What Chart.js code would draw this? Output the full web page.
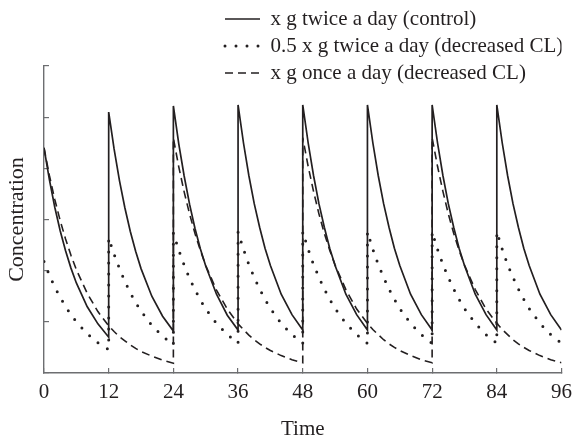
<!DOCTYPE html>
<html>
<head>
<meta charset="utf-8">
<script src="https://cdn.jsdelivr.net/npm/chart.js@4.4.1/dist/chart.umd.min.js"></script>
<style>
  html, body { margin: 0; padding: 0; background: #fff; }
  #wrap { width: 584px; height: 443px; position: relative; }
</style>
</head>
<body>
<div id="wrap"><canvas id="concChart"></canvas></div>
<script>
// sampling times in hours; each dose time is listed twice (trough, then peak)
const hours = [
  0, 1, 2, 3, 4, 5, 6, 8, 10,
  12, 12, 13, 14, 15, 16, 17, 18, 20, 22,
  24, 24, 25, 26, 27, 28, 29, 30, 32, 34,
  36, 36, 37, 38, 39, 40, 41, 42, 44, 46,
  48, 48, 49, 50, 51, 52, 53, 54, 56, 58,
  60, 60, 61, 62, 63, 64, 65, 66, 68, 70,
  72, 72, 73, 74, 75, 76, 77, 78, 80, 82,
  84, 84, 85, 86, 87, 88, 89, 90, 92, 94,
  96
];

// x g twice a day (control)
const controlConc = [
  4.40, 3.78, 3.24, 2.78, 2.39, 2.05, 1.76, 1.30, 0.96,
  0.70, 5.10, 4.38, 3.76, 3.23, 2.77, 2.38, 2.04, 1.50, 1.11,
  0.82, 5.22, 4.48, 3.85, 3.30, 2.83, 2.43, 2.09, 1.54, 1.13,
  0.84, 5.24, 4.50, 3.86, 3.31, 2.85, 2.44, 2.10, 1.54, 1.14,
  0.84, 5.24, 4.50, 3.86, 3.31, 2.85, 2.44, 2.10, 1.54, 1.14,
  0.84, 5.24, 4.50, 3.86, 3.31, 2.85, 2.44, 2.10, 1.54, 1.14,
  0.84, 5.24, 4.50, 3.86, 3.31, 2.85, 2.44, 2.10, 1.54, 1.14,
  0.84, 5.24, 4.50, 3.86, 3.31, 2.85, 2.44, 2.10, 1.54, 1.14,
  0.84
];

// 0.5 x g twice a day (decreased CL)
const halfDoseConc = [
  2.18, 1.91, 1.68, 1.48, 1.30, 1.14, 1.00, 0.77, 0.59,
  0.46, 2.64, 2.32, 2.04, 1.79, 1.57, 1.38, 1.21, 0.93, 0.72,
  0.55, 2.74, 2.40, 2.11, 1.85, 1.63, 1.43, 1.25, 0.97, 0.75,
  0.58, 2.76, 2.42, 2.12, 1.87, 1.64, 1.44, 1.26, 0.97, 0.75,
  0.58, 2.76, 2.42, 2.12, 1.87, 1.64, 1.44, 1.26, 0.97, 0.75,
  0.58, 2.76, 2.42, 2.12, 1.87, 1.64, 1.44, 1.26, 0.97, 0.75,
  0.58, 2.76, 2.42, 2.12, 1.87, 1.64, 1.44, 1.26, 0.97, 0.75,
  0.58, 2.76, 2.42, 2.12, 1.87, 1.64, 1.44, 1.26, 0.97, 0.75,
  0.58
];

// x g once a day (decreased CL)
const onceDailyConc = [
  4.40, 3.86, 3.39, 2.98, 2.62, 2.30, 2.02, 1.56, 1.20,
  0.92, 0.92, 0.81, 0.71, 0.63, 0.55, 0.48, 0.42, 0.33, 0.25,
  0.19, 4.59, 4.03, 3.54, 3.11, 2.73, 2.40, 2.10, 1.62, 1.25,
  0.96, 0.96, 0.85, 0.74, 0.65, 0.57, 0.50, 0.44, 0.34, 0.26,
  0.20, 4.60, 4.04, 3.55, 3.11, 2.73, 2.40, 2.11, 1.63, 1.25,
  0.97, 0.97, 0.85, 0.75, 0.65, 0.57, 0.50, 0.44, 0.34, 0.26,
  0.20, 4.60, 4.04, 3.55, 3.11, 2.73, 2.40, 2.11, 1.63, 1.25,
  0.97, 0.97, 0.85, 0.75, 0.65, 0.57, 0.50, 0.44, 0.34, 0.26,
  0.20
];

const timeTicks = [0, 12, 24, 36, 48, 60, 72, 84, 96];
const seriesNames = [
  "x g twice a day (control)",
  "0.5 x g twice a day (decreased CL)",
  "x g once a day (decreased CL)"
];

const ink = "#231f20";
const axisGrey = "#6d6e71";

Chart.defaults.font.family = "'Liberation Serif', 'Times New Roman', serif";
Chart.defaults.font.size = 21;
Chart.defaults.color = ink;

const toPoints = (values) => hours.map((h, i) => ({ x: h, y: values[i] }));

// the legend sits to the right, above the plot, rows left aligned
const legendPlacement = {
  id: "legendPlacement",
  beforeDraw(chart) {
    chart.legend.left = 219;
    chart.legend.top = 2.5;
  },
};

// legend samples take the dash / width of the dataset line, not of its points
const lineLabels = (chart) => {
  const items = Chart.defaults.plugins.legend.labels.generateLabels(chart);
  return items.map((item) => {
    const ds = chart.data.datasets[item.datasetIndex];
    return {
      ...item,
      lineDash: ds.borderDash || [],
      lineCap: ds.borderCapStyle || "butt",
      lineWidth: ds.borderWidth,
      strokeStyle: ds.borderColor,
      pointStyle: "line",
    };
  });
};

const ctx = document.getElementById("concChart").getContext("2d");
const concChart = new Chart(ctx, {
  type: "line",
  data: {
    datasets: [
      {
        label: seriesNames[0],
        data: toPoints(controlConc),
        borderColor: ink,
        borderWidth: 1.7,
        pointRadius: 0,
        tension: 0,
      },
      {
        label: seriesNames[1],
        data: toPoints(halfDoseConc),
        borderColor: ink,
        borderWidth: 3,
        borderDash: [0, 11],
        borderCapStyle: "round",
        pointRadius: 0,
        tension: 0,
      },
      {
        label: seriesNames[2],
        data: toPoints(onceDailyConc),
        borderColor: ink,
        borderWidth: 1.6,
        borderDash: [8, 5],
        pointRadius: 0,
        tension: 0,
      },
    ],
  },
  options: {
    responsive: true,
    maintainAspectRatio: false,
    animation: false,
    layout: {
      padding: { top: 66, right: 12, left: 0, bottom: 0 },
    },
    scales: {
      x: {
        type: "linear",
        min: 0,
        max: 96,
        afterBuildTicks: (scale) => {
          scale.ticks = timeTicks.map((v) => ({ value: v }));
        },
        afterFit: (scale) => {
          scale.height = 70;
        },
        ticks: {
          padding: 12,
          maxRotation: 0,
          color: ink,
        },
        grid: {
          drawOnChartArea: false,
          drawTicks: true,
          tickLength: -5,
          color: axisGrey,
          lineWidth: 1.2,
        },
        border: { display: true, color: axisGrey, width: 1.4 },
        title: {
          display: true,
          text: "Time",
          color: ink,
          padding: { top: 0, bottom: 1 },
        },
      },
      y: {
        min: 0,
        max: 6,
        afterFit: (scale) => {
          scale.width = 44;
        },
        ticks: {
          stepSize: 1,
          display: false,
        },
        grid: {
          drawOnChartArea: false,
          drawTicks: true,
          tickLength: -5,
          color: axisGrey,
          lineWidth: 1.2,
        },
        border: { display: true, color: axisGrey, width: 1.4 },
        title: {
          display: true,
          text: "Concentration",
          color: ink,
          font: { size: 22 },
          padding: { top: 4, bottom: 0 },
        },
      },
    },
    plugins: {
      legend: {
        display: true,
        position: "chartArea",
        align: "start",
        labels: {
          usePointStyle: true,
          pointStyle: "line",
          pointStyleWidth: 35,
          padding: 6,
          color: ink,
          font: { size: 21 },
          generateLabels: lineLabels,
        },
      },
      tooltip: { enabled: false },
    },
  },
  plugins: [legendPlacement],
});
</script>
</body>
</html>
